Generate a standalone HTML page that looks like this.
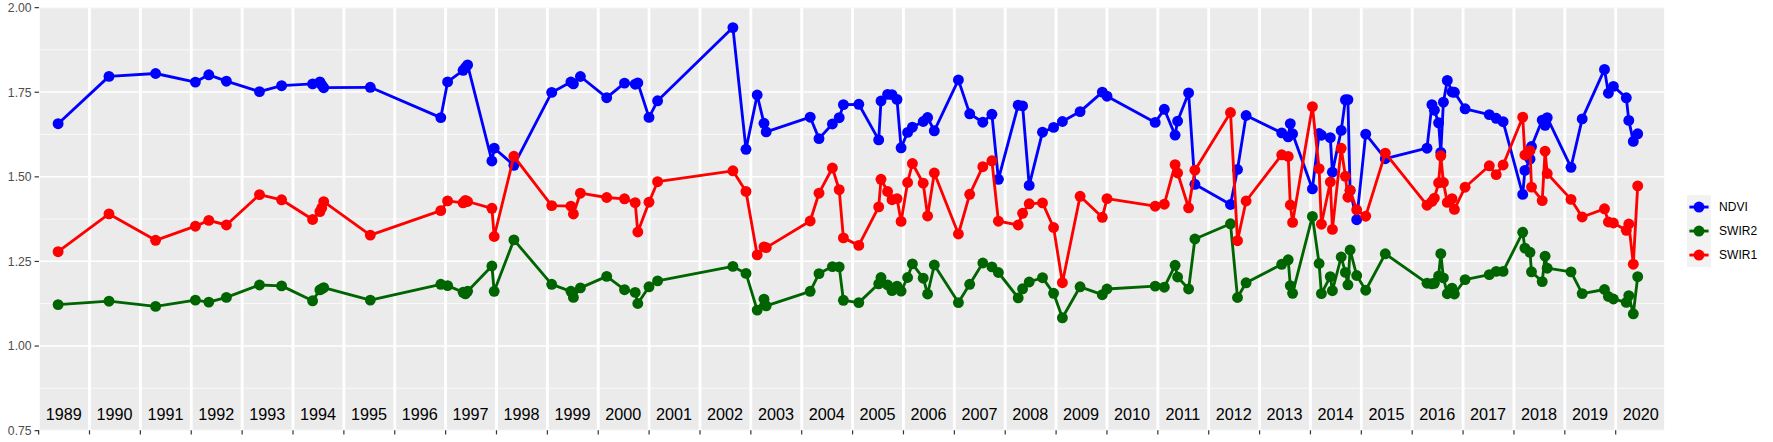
<!DOCTYPE html>
<html><head><meta charset="utf-8"><title>plot</title>
<style>html,body{margin:0;padding:0;background:#fff}svg{display:block}text{font-family:"Liberation Sans",sans-serif}</style></head><body>
<svg width="1773" height="442" viewBox="0 0 1773 442">
<rect width="1773" height="442" fill="#fff"/>
<defs><clipPath id="p"><rect x="39.3" y="7.5" width="1624.8" height="423.0"/></clipPath></defs>
<rect x="39.3" y="7.5" width="1624.8" height="423.0" fill="#EBEBEB"/>
<g clip-path="url(#p)">
<line x1="39.3" x2="1664.1" y1="49.80" y2="49.80" stroke="#fff" stroke-width="0.71"/>
<line x1="39.3" x2="1664.1" y1="134.40" y2="134.40" stroke="#fff" stroke-width="0.71"/>
<line x1="39.3" x2="1664.1" y1="219.00" y2="219.00" stroke="#fff" stroke-width="0.71"/>
<line x1="39.3" x2="1664.1" y1="303.60" y2="303.60" stroke="#fff" stroke-width="0.71"/>
<line x1="39.3" x2="1664.1" y1="388.20" y2="388.20" stroke="#fff" stroke-width="0.71"/>
<line x1="39.3" x2="1664.1" y1="7.50" y2="7.50" stroke="#fff" stroke-width="1.48"/>
<line x1="39.3" x2="1664.1" y1="92.10" y2="92.10" stroke="#fff" stroke-width="1.48"/>
<line x1="39.3" x2="1664.1" y1="176.70" y2="176.70" stroke="#fff" stroke-width="1.48"/>
<line x1="39.3" x2="1664.1" y1="261.30" y2="261.30" stroke="#fff" stroke-width="1.48"/>
<line x1="39.3" x2="1664.1" y1="345.90" y2="345.90" stroke="#fff" stroke-width="1.48"/>
<line x1="39.3" x2="1664.1" y1="430.50" y2="430.50" stroke="#fff" stroke-width="1.48"/>
<line x1="38.63" x2="38.63" y1="7.5" y2="430.5" stroke="#fff" stroke-width="2.85"/>
<line x1="89.50" x2="89.50" y1="7.5" y2="430.5" stroke="#fff" stroke-width="2.85"/>
<line x1="140.37" x2="140.37" y1="7.5" y2="430.5" stroke="#fff" stroke-width="2.85"/>
<line x1="191.25" x2="191.25" y1="7.5" y2="430.5" stroke="#fff" stroke-width="2.85"/>
<line x1="242.12" x2="242.12" y1="7.5" y2="430.5" stroke="#fff" stroke-width="2.85"/>
<line x1="292.99" x2="292.99" y1="7.5" y2="430.5" stroke="#fff" stroke-width="2.85"/>
<line x1="343.87" x2="343.87" y1="7.5" y2="430.5" stroke="#fff" stroke-width="2.85"/>
<line x1="394.74" x2="394.74" y1="7.5" y2="430.5" stroke="#fff" stroke-width="2.85"/>
<line x1="445.61" x2="445.61" y1="7.5" y2="430.5" stroke="#fff" stroke-width="2.85"/>
<line x1="496.48" x2="496.48" y1="7.5" y2="430.5" stroke="#fff" stroke-width="2.85"/>
<line x1="547.36" x2="547.36" y1="7.5" y2="430.5" stroke="#fff" stroke-width="2.85"/>
<line x1="598.23" x2="598.23" y1="7.5" y2="430.5" stroke="#fff" stroke-width="2.85"/>
<line x1="649.10" x2="649.10" y1="7.5" y2="430.5" stroke="#fff" stroke-width="2.85"/>
<line x1="699.98" x2="699.98" y1="7.5" y2="430.5" stroke="#fff" stroke-width="2.85"/>
<line x1="750.85" x2="750.85" y1="7.5" y2="430.5" stroke="#fff" stroke-width="2.85"/>
<line x1="801.72" x2="801.72" y1="7.5" y2="430.5" stroke="#fff" stroke-width="2.85"/>
<line x1="852.59" x2="852.59" y1="7.5" y2="430.5" stroke="#fff" stroke-width="2.85"/>
<line x1="903.47" x2="903.47" y1="7.5" y2="430.5" stroke="#fff" stroke-width="2.85"/>
<line x1="954.34" x2="954.34" y1="7.5" y2="430.5" stroke="#fff" stroke-width="2.85"/>
<line x1="1005.21" x2="1005.21" y1="7.5" y2="430.5" stroke="#fff" stroke-width="2.85"/>
<line x1="1056.09" x2="1056.09" y1="7.5" y2="430.5" stroke="#fff" stroke-width="2.85"/>
<line x1="1106.96" x2="1106.96" y1="7.5" y2="430.5" stroke="#fff" stroke-width="2.85"/>
<line x1="1157.83" x2="1157.83" y1="7.5" y2="430.5" stroke="#fff" stroke-width="2.85"/>
<line x1="1208.71" x2="1208.71" y1="7.5" y2="430.5" stroke="#fff" stroke-width="2.85"/>
<line x1="1259.58" x2="1259.58" y1="7.5" y2="430.5" stroke="#fff" stroke-width="2.85"/>
<line x1="1310.45" x2="1310.45" y1="7.5" y2="430.5" stroke="#fff" stroke-width="2.85"/>
<line x1="1361.33" x2="1361.33" y1="7.5" y2="430.5" stroke="#fff" stroke-width="2.85"/>
<line x1="1412.20" x2="1412.20" y1="7.5" y2="430.5" stroke="#fff" stroke-width="2.85"/>
<line x1="1463.07" x2="1463.07" y1="7.5" y2="430.5" stroke="#fff" stroke-width="2.85"/>
<line x1="1513.94" x2="1513.94" y1="7.5" y2="430.5" stroke="#fff" stroke-width="2.85"/>
<line x1="1564.82" x2="1564.82" y1="7.5" y2="430.5" stroke="#fff" stroke-width="2.85"/>
<line x1="1615.69" x2="1615.69" y1="7.5" y2="430.5" stroke="#fff" stroke-width="2.85"/>
<polyline points="58.1,123.7 109.0,76.4 155.6,73.5 195.4,82.1 208.8,74.8 226.4,81.2 259.5,91.6 281.6,85.7 312.6,83.9 319.9,81.9 321.7,84.8 323.7,87.7 370.3,87.3 440.8,117.6 447.6,81.9 463.1,70.3 465.4,67.5 467.6,64.9 491.9,161.0 494.2,148.2 513.9,165.3 551.7,92.4 570.9,82.0 573.4,83.8 580.4,76.5 606.7,97.7 624.5,83.1 635.2,84.2 637.8,82.9 649.0,117.4 657.6,100.8 732.9,27.6 746.0,149.3 757.2,95.0 764.0,123.3 766.2,131.9 810.2,117.2 819.0,138.6 832.4,124.0 839.2,117.7 843.4,104.6 858.8,104.3 878.7,139.9 881.0,101.0 887.6,94.4 892.0,94.6 897.0,99.4 901.1,147.8 907.6,132.4 912.4,127.2 923.2,121.5 927.6,117.5 934.3,130.8 958.4,79.9 969.7,113.8 982.8,122.2 991.9,114.3 998.4,179.3 1018.2,105.2 1022.6,105.9 1029.2,185.4 1042.5,132.2 1053.6,127.4 1062.4,121.5 1080.1,111.6 1102.3,92.1 1107.0,96.2 1155.2,122.4 1164.3,109.3 1175.1,135.1 1177.6,121.1 1188.6,92.9 1194.9,184.3 1230.5,204.5 1237.5,169.5 1246.1,115.5 1281.7,132.9 1288.2,136.9 1290.3,123.6 1292.6,133.8 1312.4,188.9 1319.1,133.5 1321.4,135.2 1330.3,137.7 1332.4,172.2 1341.2,130.4 1345.4,99.8 1347.9,99.6 1350.1,190.4 1356.7,219.7 1365.7,134.2 1385.3,158.7 1427.0,148.2 1431.9,104.6 1434.4,110.2 1438.6,122.8 1440.8,152.4 1443.4,102.2 1447.3,80.4 1452.0,92.0 1454.4,92.3 1465.1,108.8 1489.3,114.6 1496.2,118.3 1503.1,121.7 1522.7,194.4 1524.9,170.4 1530.0,159.2 1531.5,146.5 1542.2,120.1 1545.1,125.3 1547.2,117.6 1571.0,167.3 1582.2,118.9 1604.5,69.4 1608.4,93.2 1613.4,86.4 1626.3,97.8 1628.8,120.4 1633.3,141.4 1637.7,133.8" fill="none" stroke="#0000FF" stroke-width="2.85" stroke-linejoin="round" stroke-linecap="butt"/>
<g fill="#0000FF"><circle cx="58.1" cy="123.7" r="5.45"/><circle cx="109.0" cy="76.4" r="5.45"/><circle cx="155.6" cy="73.5" r="5.45"/><circle cx="195.4" cy="82.1" r="5.45"/><circle cx="208.8" cy="74.8" r="5.45"/><circle cx="226.4" cy="81.2" r="5.45"/><circle cx="259.5" cy="91.6" r="5.45"/><circle cx="281.6" cy="85.7" r="5.45"/><circle cx="312.6" cy="83.9" r="5.45"/><circle cx="319.9" cy="81.9" r="5.45"/><circle cx="321.7" cy="84.8" r="5.45"/><circle cx="323.7" cy="87.7" r="5.45"/><circle cx="370.3" cy="87.3" r="5.45"/><circle cx="440.8" cy="117.6" r="5.45"/><circle cx="447.6" cy="81.9" r="5.45"/><circle cx="463.1" cy="70.3" r="5.45"/><circle cx="465.4" cy="67.5" r="5.45"/><circle cx="467.6" cy="64.9" r="5.45"/><circle cx="491.9" cy="161.0" r="5.45"/><circle cx="494.2" cy="148.2" r="5.45"/><circle cx="513.9" cy="165.3" r="5.45"/><circle cx="551.7" cy="92.4" r="5.45"/><circle cx="570.9" cy="82.0" r="5.45"/><circle cx="573.4" cy="83.8" r="5.45"/><circle cx="580.4" cy="76.5" r="5.45"/><circle cx="606.7" cy="97.7" r="5.45"/><circle cx="624.5" cy="83.1" r="5.45"/><circle cx="635.2" cy="84.2" r="5.45"/><circle cx="637.8" cy="82.9" r="5.45"/><circle cx="649.0" cy="117.4" r="5.45"/><circle cx="657.6" cy="100.8" r="5.45"/><circle cx="732.9" cy="27.6" r="5.45"/><circle cx="746.0" cy="149.3" r="5.45"/><circle cx="757.2" cy="95.0" r="5.45"/><circle cx="764.0" cy="123.3" r="5.45"/><circle cx="766.2" cy="131.9" r="5.45"/><circle cx="810.2" cy="117.2" r="5.45"/><circle cx="819.0" cy="138.6" r="5.45"/><circle cx="832.4" cy="124.0" r="5.45"/><circle cx="839.2" cy="117.7" r="5.45"/><circle cx="843.4" cy="104.6" r="5.45"/><circle cx="858.8" cy="104.3" r="5.45"/><circle cx="878.7" cy="139.9" r="5.45"/><circle cx="881.0" cy="101.0" r="5.45"/><circle cx="887.6" cy="94.4" r="5.45"/><circle cx="892.0" cy="94.6" r="5.45"/><circle cx="897.0" cy="99.4" r="5.45"/><circle cx="901.1" cy="147.8" r="5.45"/><circle cx="907.6" cy="132.4" r="5.45"/><circle cx="912.4" cy="127.2" r="5.45"/><circle cx="923.2" cy="121.5" r="5.45"/><circle cx="927.6" cy="117.5" r="5.45"/><circle cx="934.3" cy="130.8" r="5.45"/><circle cx="958.4" cy="79.9" r="5.45"/><circle cx="969.7" cy="113.8" r="5.45"/><circle cx="982.8" cy="122.2" r="5.45"/><circle cx="991.9" cy="114.3" r="5.45"/><circle cx="998.4" cy="179.3" r="5.45"/><circle cx="1018.2" cy="105.2" r="5.45"/><circle cx="1022.6" cy="105.9" r="5.45"/><circle cx="1029.2" cy="185.4" r="5.45"/><circle cx="1042.5" cy="132.2" r="5.45"/><circle cx="1053.6" cy="127.4" r="5.45"/><circle cx="1062.4" cy="121.5" r="5.45"/><circle cx="1080.1" cy="111.6" r="5.45"/><circle cx="1102.3" cy="92.1" r="5.45"/><circle cx="1107.0" cy="96.2" r="5.45"/><circle cx="1155.2" cy="122.4" r="5.45"/><circle cx="1164.3" cy="109.3" r="5.45"/><circle cx="1175.1" cy="135.1" r="5.45"/><circle cx="1177.6" cy="121.1" r="5.45"/><circle cx="1188.6" cy="92.9" r="5.45"/><circle cx="1194.9" cy="184.3" r="5.45"/><circle cx="1230.5" cy="204.5" r="5.45"/><circle cx="1237.5" cy="169.5" r="5.45"/><circle cx="1246.1" cy="115.5" r="5.45"/><circle cx="1281.7" cy="132.9" r="5.45"/><circle cx="1288.2" cy="136.9" r="5.45"/><circle cx="1290.3" cy="123.6" r="5.45"/><circle cx="1292.6" cy="133.8" r="5.45"/><circle cx="1312.4" cy="188.9" r="5.45"/><circle cx="1319.1" cy="133.5" r="5.45"/><circle cx="1321.4" cy="135.2" r="5.45"/><circle cx="1330.3" cy="137.7" r="5.45"/><circle cx="1332.4" cy="172.2" r="5.45"/><circle cx="1341.2" cy="130.4" r="5.45"/><circle cx="1345.4" cy="99.8" r="5.45"/><circle cx="1347.9" cy="99.6" r="5.45"/><circle cx="1350.1" cy="190.4" r="5.45"/><circle cx="1356.7" cy="219.7" r="5.45"/><circle cx="1365.7" cy="134.2" r="5.45"/><circle cx="1385.3" cy="158.7" r="5.45"/><circle cx="1427.0" cy="148.2" r="5.45"/><circle cx="1431.9" cy="104.6" r="5.45"/><circle cx="1434.4" cy="110.2" r="5.45"/><circle cx="1438.6" cy="122.8" r="5.45"/><circle cx="1440.8" cy="152.4" r="5.45"/><circle cx="1443.4" cy="102.2" r="5.45"/><circle cx="1447.3" cy="80.4" r="5.45"/><circle cx="1452.0" cy="92.0" r="5.45"/><circle cx="1454.4" cy="92.3" r="5.45"/><circle cx="1465.1" cy="108.8" r="5.45"/><circle cx="1489.3" cy="114.6" r="5.45"/><circle cx="1496.2" cy="118.3" r="5.45"/><circle cx="1503.1" cy="121.7" r="5.45"/><circle cx="1522.7" cy="194.4" r="5.45"/><circle cx="1524.9" cy="170.4" r="5.45"/><circle cx="1530.0" cy="159.2" r="5.45"/><circle cx="1531.5" cy="146.5" r="5.45"/><circle cx="1542.2" cy="120.1" r="5.45"/><circle cx="1545.1" cy="125.3" r="5.45"/><circle cx="1547.2" cy="117.6" r="5.45"/><circle cx="1571.0" cy="167.3" r="5.45"/><circle cx="1582.2" cy="118.9" r="5.45"/><circle cx="1604.5" cy="69.4" r="5.45"/><circle cx="1608.4" cy="93.2" r="5.45"/><circle cx="1613.4" cy="86.4" r="5.45"/><circle cx="1626.3" cy="97.8" r="5.45"/><circle cx="1628.8" cy="120.4" r="5.45"/><circle cx="1633.3" cy="141.4" r="5.45"/><circle cx="1637.7" cy="133.8" r="5.45"/></g>
<polyline points="58.1,304.6 109.0,301.2 155.6,306.4 195.4,300.1 208.8,302.1 226.4,297.4 259.5,285.0 281.6,285.9 312.6,300.8 319.9,289.9 321.7,288.9 323.7,287.7 370.3,300.1 440.8,284.3 447.6,285.6 463.1,292.3 465.4,293.8 467.6,291.3 491.9,266.0 494.2,291.3 513.9,239.9 551.7,284.3 570.9,291.3 573.4,297.4 580.4,287.9 606.7,276.4 624.5,289.7 635.2,292.4 637.8,303.5 649.0,286.8 657.6,280.9 732.9,266.4 746.0,273.4 757.2,310.1 764.0,299.2 766.2,305.8 810.2,291.3 819.0,273.6 832.4,266.6 839.2,266.9 843.4,300.3 858.8,302.6 878.7,283.8 881.0,277.5 887.6,285.0 892.0,290.6 897.0,286.1 901.1,291.1 907.6,277.5 912.4,263.9 923.2,278.2 927.6,294.0 934.3,265.0 958.4,302.6 969.7,284.3 982.8,263.0 991.9,266.9 998.4,272.5 1018.2,297.9 1022.6,288.8 1029.2,282.0 1042.5,277.7 1053.6,293.3 1062.4,317.8 1080.1,286.8 1102.3,294.7 1107.0,289.0 1155.2,286.1 1164.3,287.2 1175.1,265.3 1177.6,277.0 1188.6,289.0 1194.9,239.0 1230.5,223.8 1237.5,297.5 1246.1,282.8 1281.7,264.3 1288.2,259.8 1290.3,285.6 1292.6,293.3 1312.4,216.4 1319.1,263.5 1321.4,293.6 1330.3,276.6 1332.4,290.7 1341.2,257.0 1345.4,272.4 1347.9,284.8 1350.1,250.0 1356.7,275.5 1365.7,290.2 1385.3,253.8 1427.0,283.2 1431.9,283.8 1434.4,283.3 1438.6,276.0 1440.8,253.7 1443.4,277.9 1447.3,293.7 1452.0,288.1 1454.4,294.0 1465.1,279.6 1489.3,274.6 1496.2,271.4 1503.1,271.4 1522.7,232.3 1524.9,248.1 1530.0,252.3 1531.5,271.8 1542.2,281.6 1545.1,256.2 1547.2,268.2 1571.0,271.9 1582.2,293.6 1604.5,289.5 1608.4,296.5 1613.4,299.0 1626.3,302.4 1628.8,295.6 1633.3,313.8 1637.7,276.7" fill="none" stroke="#006400" stroke-width="2.85" stroke-linejoin="round" stroke-linecap="butt"/>
<g fill="#006400"><circle cx="58.1" cy="304.6" r="5.45"/><circle cx="109.0" cy="301.2" r="5.45"/><circle cx="155.6" cy="306.4" r="5.45"/><circle cx="195.4" cy="300.1" r="5.45"/><circle cx="208.8" cy="302.1" r="5.45"/><circle cx="226.4" cy="297.4" r="5.45"/><circle cx="259.5" cy="285.0" r="5.45"/><circle cx="281.6" cy="285.9" r="5.45"/><circle cx="312.6" cy="300.8" r="5.45"/><circle cx="319.9" cy="289.9" r="5.45"/><circle cx="321.7" cy="288.9" r="5.45"/><circle cx="323.7" cy="287.7" r="5.45"/><circle cx="370.3" cy="300.1" r="5.45"/><circle cx="440.8" cy="284.3" r="5.45"/><circle cx="447.6" cy="285.6" r="5.45"/><circle cx="463.1" cy="292.3" r="5.45"/><circle cx="465.4" cy="293.8" r="5.45"/><circle cx="467.6" cy="291.3" r="5.45"/><circle cx="491.9" cy="266.0" r="5.45"/><circle cx="494.2" cy="291.3" r="5.45"/><circle cx="513.9" cy="239.9" r="5.45"/><circle cx="551.7" cy="284.3" r="5.45"/><circle cx="570.9" cy="291.3" r="5.45"/><circle cx="573.4" cy="297.4" r="5.45"/><circle cx="580.4" cy="287.9" r="5.45"/><circle cx="606.7" cy="276.4" r="5.45"/><circle cx="624.5" cy="289.7" r="5.45"/><circle cx="635.2" cy="292.4" r="5.45"/><circle cx="637.8" cy="303.5" r="5.45"/><circle cx="649.0" cy="286.8" r="5.45"/><circle cx="657.6" cy="280.9" r="5.45"/><circle cx="732.9" cy="266.4" r="5.45"/><circle cx="746.0" cy="273.4" r="5.45"/><circle cx="757.2" cy="310.1" r="5.45"/><circle cx="764.0" cy="299.2" r="5.45"/><circle cx="766.2" cy="305.8" r="5.45"/><circle cx="810.2" cy="291.3" r="5.45"/><circle cx="819.0" cy="273.6" r="5.45"/><circle cx="832.4" cy="266.6" r="5.45"/><circle cx="839.2" cy="266.9" r="5.45"/><circle cx="843.4" cy="300.3" r="5.45"/><circle cx="858.8" cy="302.6" r="5.45"/><circle cx="878.7" cy="283.8" r="5.45"/><circle cx="881.0" cy="277.5" r="5.45"/><circle cx="887.6" cy="285.0" r="5.45"/><circle cx="892.0" cy="290.6" r="5.45"/><circle cx="897.0" cy="286.1" r="5.45"/><circle cx="901.1" cy="291.1" r="5.45"/><circle cx="907.6" cy="277.5" r="5.45"/><circle cx="912.4" cy="263.9" r="5.45"/><circle cx="923.2" cy="278.2" r="5.45"/><circle cx="927.6" cy="294.0" r="5.45"/><circle cx="934.3" cy="265.0" r="5.45"/><circle cx="958.4" cy="302.6" r="5.45"/><circle cx="969.7" cy="284.3" r="5.45"/><circle cx="982.8" cy="263.0" r="5.45"/><circle cx="991.9" cy="266.9" r="5.45"/><circle cx="998.4" cy="272.5" r="5.45"/><circle cx="1018.2" cy="297.9" r="5.45"/><circle cx="1022.6" cy="288.8" r="5.45"/><circle cx="1029.2" cy="282.0" r="5.45"/><circle cx="1042.5" cy="277.7" r="5.45"/><circle cx="1053.6" cy="293.3" r="5.45"/><circle cx="1062.4" cy="317.8" r="5.45"/><circle cx="1080.1" cy="286.8" r="5.45"/><circle cx="1102.3" cy="294.7" r="5.45"/><circle cx="1107.0" cy="289.0" r="5.45"/><circle cx="1155.2" cy="286.1" r="5.45"/><circle cx="1164.3" cy="287.2" r="5.45"/><circle cx="1175.1" cy="265.3" r="5.45"/><circle cx="1177.6" cy="277.0" r="5.45"/><circle cx="1188.6" cy="289.0" r="5.45"/><circle cx="1194.9" cy="239.0" r="5.45"/><circle cx="1230.5" cy="223.8" r="5.45"/><circle cx="1237.5" cy="297.5" r="5.45"/><circle cx="1246.1" cy="282.8" r="5.45"/><circle cx="1281.7" cy="264.3" r="5.45"/><circle cx="1288.2" cy="259.8" r="5.45"/><circle cx="1290.3" cy="285.6" r="5.45"/><circle cx="1292.6" cy="293.3" r="5.45"/><circle cx="1312.4" cy="216.4" r="5.45"/><circle cx="1319.1" cy="263.5" r="5.45"/><circle cx="1321.4" cy="293.6" r="5.45"/><circle cx="1330.3" cy="276.6" r="5.45"/><circle cx="1332.4" cy="290.7" r="5.45"/><circle cx="1341.2" cy="257.0" r="5.45"/><circle cx="1345.4" cy="272.4" r="5.45"/><circle cx="1347.9" cy="284.8" r="5.45"/><circle cx="1350.1" cy="250.0" r="5.45"/><circle cx="1356.7" cy="275.5" r="5.45"/><circle cx="1365.7" cy="290.2" r="5.45"/><circle cx="1385.3" cy="253.8" r="5.45"/><circle cx="1427.0" cy="283.2" r="5.45"/><circle cx="1431.9" cy="283.8" r="5.45"/><circle cx="1434.4" cy="283.3" r="5.45"/><circle cx="1438.6" cy="276.0" r="5.45"/><circle cx="1440.8" cy="253.7" r="5.45"/><circle cx="1443.4" cy="277.9" r="5.45"/><circle cx="1447.3" cy="293.7" r="5.45"/><circle cx="1452.0" cy="288.1" r="5.45"/><circle cx="1454.4" cy="294.0" r="5.45"/><circle cx="1465.1" cy="279.6" r="5.45"/><circle cx="1489.3" cy="274.6" r="5.45"/><circle cx="1496.2" cy="271.4" r="5.45"/><circle cx="1503.1" cy="271.4" r="5.45"/><circle cx="1522.7" cy="232.3" r="5.45"/><circle cx="1524.9" cy="248.1" r="5.45"/><circle cx="1530.0" cy="252.3" r="5.45"/><circle cx="1531.5" cy="271.8" r="5.45"/><circle cx="1542.2" cy="281.6" r="5.45"/><circle cx="1545.1" cy="256.2" r="5.45"/><circle cx="1547.2" cy="268.2" r="5.45"/><circle cx="1571.0" cy="271.9" r="5.45"/><circle cx="1582.2" cy="293.6" r="5.45"/><circle cx="1604.5" cy="289.5" r="5.45"/><circle cx="1608.4" cy="296.5" r="5.45"/><circle cx="1613.4" cy="299.0" r="5.45"/><circle cx="1626.3" cy="302.4" r="5.45"/><circle cx="1628.8" cy="295.6" r="5.45"/><circle cx="1633.3" cy="313.8" r="5.45"/><circle cx="1637.7" cy="276.7" r="5.45"/></g>
<polyline points="58.1,251.7 109.0,213.9 155.6,240.3 195.4,226.2 208.8,220.4 226.4,225.0 259.5,194.6 281.6,199.8 312.6,219.5 319.9,211.6 321.7,208.0 323.7,201.7 370.3,235.1 440.8,210.6 447.6,200.9 463.1,202.8 465.4,200.4 467.6,201.5 491.9,208.3 494.2,236.5 513.9,156.3 551.7,205.6 570.9,206.1 573.4,214.0 580.4,193.2 606.7,197.5 624.5,198.8 635.2,202.7 637.8,232.0 649.0,202.2 657.6,181.7 732.9,170.8 746.0,191.4 757.2,254.9 764.0,246.9 766.2,247.6 810.2,221.0 819.0,193.2 832.4,168.0 839.2,189.7 843.4,237.9 858.8,245.4 878.7,206.9 881.0,179.3 887.6,191.5 892.0,199.7 897.0,198.6 901.1,221.4 907.6,182.5 912.4,163.5 923.2,183.2 927.6,216.0 934.3,173.0 958.4,234.0 969.7,194.3 982.8,166.7 991.9,160.8 998.4,221.2 1018.2,225.0 1022.6,213.3 1029.2,203.8 1042.5,202.9 1053.6,227.5 1062.4,282.7 1080.1,196.3 1102.3,217.3 1107.0,198.6 1155.2,206.2 1164.3,204.2 1175.1,164.6 1177.6,173.0 1188.6,207.8 1194.9,170.2 1230.5,112.5 1237.5,240.7 1246.1,201.0 1281.7,154.8 1288.2,156.4 1290.3,205.0 1292.6,222.4 1312.4,106.6 1319.1,168.6 1321.4,224.2 1330.3,182.0 1332.4,229.4 1341.2,148.3 1345.4,176.3 1347.9,197.2 1350.1,190.2 1356.7,209.8 1365.7,216.2 1385.3,153.1 1427.0,205.2 1431.9,201.5 1434.4,198.1 1438.6,182.8 1440.8,155.8 1443.4,182.5 1447.3,202.4 1452.0,198.7 1454.4,209.4 1465.1,187.2 1489.3,165.8 1496.2,174.6 1503.1,165.0 1522.7,117.2 1524.9,155.0 1530.0,150.7 1531.5,187.1 1542.2,200.6 1545.1,151.2 1547.2,173.5 1571.0,199.4 1582.2,217.0 1604.5,208.8 1608.4,222.0 1613.4,223.0 1626.3,230.3 1628.8,224.0 1633.3,264.2 1637.7,185.9" fill="none" stroke="#FF0000" stroke-width="2.85" stroke-linejoin="round" stroke-linecap="butt"/>
<g fill="#FF0000"><circle cx="58.1" cy="251.7" r="5.45"/><circle cx="109.0" cy="213.9" r="5.45"/><circle cx="155.6" cy="240.3" r="5.45"/><circle cx="195.4" cy="226.2" r="5.45"/><circle cx="208.8" cy="220.4" r="5.45"/><circle cx="226.4" cy="225.0" r="5.45"/><circle cx="259.5" cy="194.6" r="5.45"/><circle cx="281.6" cy="199.8" r="5.45"/><circle cx="312.6" cy="219.5" r="5.45"/><circle cx="319.9" cy="211.6" r="5.45"/><circle cx="321.7" cy="208.0" r="5.45"/><circle cx="323.7" cy="201.7" r="5.45"/><circle cx="370.3" cy="235.1" r="5.45"/><circle cx="440.8" cy="210.6" r="5.45"/><circle cx="447.6" cy="200.9" r="5.45"/><circle cx="463.1" cy="202.8" r="5.45"/><circle cx="465.4" cy="200.4" r="5.45"/><circle cx="467.6" cy="201.5" r="5.45"/><circle cx="491.9" cy="208.3" r="5.45"/><circle cx="494.2" cy="236.5" r="5.45"/><circle cx="513.9" cy="156.3" r="5.45"/><circle cx="551.7" cy="205.6" r="5.45"/><circle cx="570.9" cy="206.1" r="5.45"/><circle cx="573.4" cy="214.0" r="5.45"/><circle cx="580.4" cy="193.2" r="5.45"/><circle cx="606.7" cy="197.5" r="5.45"/><circle cx="624.5" cy="198.8" r="5.45"/><circle cx="635.2" cy="202.7" r="5.45"/><circle cx="637.8" cy="232.0" r="5.45"/><circle cx="649.0" cy="202.2" r="5.45"/><circle cx="657.6" cy="181.7" r="5.45"/><circle cx="732.9" cy="170.8" r="5.45"/><circle cx="746.0" cy="191.4" r="5.45"/><circle cx="757.2" cy="254.9" r="5.45"/><circle cx="764.0" cy="246.9" r="5.45"/><circle cx="766.2" cy="247.6" r="5.45"/><circle cx="810.2" cy="221.0" r="5.45"/><circle cx="819.0" cy="193.2" r="5.45"/><circle cx="832.4" cy="168.0" r="5.45"/><circle cx="839.2" cy="189.7" r="5.45"/><circle cx="843.4" cy="237.9" r="5.45"/><circle cx="858.8" cy="245.4" r="5.45"/><circle cx="878.7" cy="206.9" r="5.45"/><circle cx="881.0" cy="179.3" r="5.45"/><circle cx="887.6" cy="191.5" r="5.45"/><circle cx="892.0" cy="199.7" r="5.45"/><circle cx="897.0" cy="198.6" r="5.45"/><circle cx="901.1" cy="221.4" r="5.45"/><circle cx="907.6" cy="182.5" r="5.45"/><circle cx="912.4" cy="163.5" r="5.45"/><circle cx="923.2" cy="183.2" r="5.45"/><circle cx="927.6" cy="216.0" r="5.45"/><circle cx="934.3" cy="173.0" r="5.45"/><circle cx="958.4" cy="234.0" r="5.45"/><circle cx="969.7" cy="194.3" r="5.45"/><circle cx="982.8" cy="166.7" r="5.45"/><circle cx="991.9" cy="160.8" r="5.45"/><circle cx="998.4" cy="221.2" r="5.45"/><circle cx="1018.2" cy="225.0" r="5.45"/><circle cx="1022.6" cy="213.3" r="5.45"/><circle cx="1029.2" cy="203.8" r="5.45"/><circle cx="1042.5" cy="202.9" r="5.45"/><circle cx="1053.6" cy="227.5" r="5.45"/><circle cx="1062.4" cy="282.7" r="5.45"/><circle cx="1080.1" cy="196.3" r="5.45"/><circle cx="1102.3" cy="217.3" r="5.45"/><circle cx="1107.0" cy="198.6" r="5.45"/><circle cx="1155.2" cy="206.2" r="5.45"/><circle cx="1164.3" cy="204.2" r="5.45"/><circle cx="1175.1" cy="164.6" r="5.45"/><circle cx="1177.6" cy="173.0" r="5.45"/><circle cx="1188.6" cy="207.8" r="5.45"/><circle cx="1194.9" cy="170.2" r="5.45"/><circle cx="1230.5" cy="112.5" r="5.45"/><circle cx="1237.5" cy="240.7" r="5.45"/><circle cx="1246.1" cy="201.0" r="5.45"/><circle cx="1281.7" cy="154.8" r="5.45"/><circle cx="1288.2" cy="156.4" r="5.45"/><circle cx="1290.3" cy="205.0" r="5.45"/><circle cx="1292.6" cy="222.4" r="5.45"/><circle cx="1312.4" cy="106.6" r="5.45"/><circle cx="1319.1" cy="168.6" r="5.45"/><circle cx="1321.4" cy="224.2" r="5.45"/><circle cx="1330.3" cy="182.0" r="5.45"/><circle cx="1332.4" cy="229.4" r="5.45"/><circle cx="1341.2" cy="148.3" r="5.45"/><circle cx="1345.4" cy="176.3" r="5.45"/><circle cx="1347.9" cy="197.2" r="5.45"/><circle cx="1350.1" cy="190.2" r="5.45"/><circle cx="1356.7" cy="209.8" r="5.45"/><circle cx="1365.7" cy="216.2" r="5.45"/><circle cx="1385.3" cy="153.1" r="5.45"/><circle cx="1427.0" cy="205.2" r="5.45"/><circle cx="1431.9" cy="201.5" r="5.45"/><circle cx="1434.4" cy="198.1" r="5.45"/><circle cx="1438.6" cy="182.8" r="5.45"/><circle cx="1440.8" cy="155.8" r="5.45"/><circle cx="1443.4" cy="182.5" r="5.45"/><circle cx="1447.3" cy="202.4" r="5.45"/><circle cx="1452.0" cy="198.7" r="5.45"/><circle cx="1454.4" cy="209.4" r="5.45"/><circle cx="1465.1" cy="187.2" r="5.45"/><circle cx="1489.3" cy="165.8" r="5.45"/><circle cx="1496.2" cy="174.6" r="5.45"/><circle cx="1503.1" cy="165.0" r="5.45"/><circle cx="1522.7" cy="117.2" r="5.45"/><circle cx="1524.9" cy="155.0" r="5.45"/><circle cx="1530.0" cy="150.7" r="5.45"/><circle cx="1531.5" cy="187.1" r="5.45"/><circle cx="1542.2" cy="200.6" r="5.45"/><circle cx="1545.1" cy="151.2" r="5.45"/><circle cx="1547.2" cy="173.5" r="5.45"/><circle cx="1571.0" cy="199.4" r="5.45"/><circle cx="1582.2" cy="217.0" r="5.45"/><circle cx="1604.5" cy="208.8" r="5.45"/><circle cx="1608.4" cy="222.0" r="5.45"/><circle cx="1613.4" cy="223.0" r="5.45"/><circle cx="1626.3" cy="230.3" r="5.45"/><circle cx="1628.8" cy="224.0" r="5.45"/><circle cx="1633.3" cy="264.2" r="5.45"/><circle cx="1637.7" cy="185.9" r="5.45"/></g>
<g font-size="16.2" fill="#000" text-anchor="middle">
<text x="63.7" y="419.6">1989</text>
<text x="114.5" y="419.6">1990</text>
<text x="165.4" y="419.6">1991</text>
<text x="216.3" y="419.6">1992</text>
<text x="267.2" y="419.6">1993</text>
<text x="318.0" y="419.6">1994</text>
<text x="368.9" y="419.6">1995</text>
<text x="419.8" y="419.6">1996</text>
<text x="470.6" y="419.6">1997</text>
<text x="521.5" y="419.6">1998</text>
<text x="572.4" y="419.6">1999</text>
<text x="623.3" y="419.6">2000</text>
<text x="674.1" y="419.6">2001</text>
<text x="725.0" y="419.6">2002</text>
<text x="775.9" y="419.6">2003</text>
<text x="826.8" y="419.6">2004</text>
<text x="877.6" y="419.6">2005</text>
<text x="928.5" y="419.6">2006</text>
<text x="979.4" y="419.6">2007</text>
<text x="1030.3" y="419.6">2008</text>
<text x="1081.1" y="419.6">2009</text>
<text x="1132.0" y="419.6">2010</text>
<text x="1182.9" y="419.6">2011</text>
<text x="1233.7" y="419.6">2012</text>
<text x="1284.6" y="419.6">2013</text>
<text x="1335.5" y="419.6">2014</text>
<text x="1386.4" y="419.6">2015</text>
<text x="1437.2" y="419.6">2016</text>
<text x="1488.1" y="419.6">2017</text>
<text x="1539.0" y="419.6">2018</text>
<text x="1589.9" y="419.6">2019</text>
<text x="1640.7" y="419.6">2020</text>
</g>
</g>
<g font-size="12.2" fill="#4D4D4D" text-anchor="end">
<text x="31.6" y="11.9">2.00</text>
<text x="31.6" y="96.5">1.75</text>
<text x="31.6" y="181.1">1.50</text>
<text x="31.6" y="265.7">1.25</text>
<text x="31.6" y="350.3">1.00</text>
<text x="31.6" y="434.9">0.75</text>
</g>
<line x1="34.6" x2="38.9" y1="7.65" y2="7.65" stroke="#333" stroke-width="1.2"/>
<line x1="34.6" x2="38.9" y1="92.25" y2="92.25" stroke="#333" stroke-width="1.2"/>
<line x1="34.6" x2="38.9" y1="176.85" y2="176.85" stroke="#333" stroke-width="1.2"/>
<line x1="34.6" x2="38.9" y1="261.45" y2="261.45" stroke="#333" stroke-width="1.2"/>
<line x1="34.6" x2="38.9" y1="346.05" y2="346.05" stroke="#333" stroke-width="1.2"/>
<line x1="34.6" x2="38.9" y1="430.65" y2="430.65" stroke="#333" stroke-width="1.2"/>
<line x1="38.63" x2="38.63" y1="430.3" y2="434.4" stroke="#333" stroke-width="1.2"/>
<line x1="89.50" x2="89.50" y1="430.3" y2="434.4" stroke="#333" stroke-width="1.2"/>
<line x1="140.37" x2="140.37" y1="430.3" y2="434.4" stroke="#333" stroke-width="1.2"/>
<line x1="191.25" x2="191.25" y1="430.3" y2="434.4" stroke="#333" stroke-width="1.2"/>
<line x1="242.12" x2="242.12" y1="430.3" y2="434.4" stroke="#333" stroke-width="1.2"/>
<line x1="292.99" x2="292.99" y1="430.3" y2="434.4" stroke="#333" stroke-width="1.2"/>
<line x1="343.87" x2="343.87" y1="430.3" y2="434.4" stroke="#333" stroke-width="1.2"/>
<line x1="394.74" x2="394.74" y1="430.3" y2="434.4" stroke="#333" stroke-width="1.2"/>
<line x1="445.61" x2="445.61" y1="430.3" y2="434.4" stroke="#333" stroke-width="1.2"/>
<line x1="496.48" x2="496.48" y1="430.3" y2="434.4" stroke="#333" stroke-width="1.2"/>
<line x1="547.36" x2="547.36" y1="430.3" y2="434.4" stroke="#333" stroke-width="1.2"/>
<line x1="598.23" x2="598.23" y1="430.3" y2="434.4" stroke="#333" stroke-width="1.2"/>
<line x1="649.10" x2="649.10" y1="430.3" y2="434.4" stroke="#333" stroke-width="1.2"/>
<line x1="699.98" x2="699.98" y1="430.3" y2="434.4" stroke="#333" stroke-width="1.2"/>
<line x1="750.85" x2="750.85" y1="430.3" y2="434.4" stroke="#333" stroke-width="1.2"/>
<line x1="801.72" x2="801.72" y1="430.3" y2="434.4" stroke="#333" stroke-width="1.2"/>
<line x1="852.59" x2="852.59" y1="430.3" y2="434.4" stroke="#333" stroke-width="1.2"/>
<line x1="903.47" x2="903.47" y1="430.3" y2="434.4" stroke="#333" stroke-width="1.2"/>
<line x1="954.34" x2="954.34" y1="430.3" y2="434.4" stroke="#333" stroke-width="1.2"/>
<line x1="1005.21" x2="1005.21" y1="430.3" y2="434.4" stroke="#333" stroke-width="1.2"/>
<line x1="1056.09" x2="1056.09" y1="430.3" y2="434.4" stroke="#333" stroke-width="1.2"/>
<line x1="1106.96" x2="1106.96" y1="430.3" y2="434.4" stroke="#333" stroke-width="1.2"/>
<line x1="1157.83" x2="1157.83" y1="430.3" y2="434.4" stroke="#333" stroke-width="1.2"/>
<line x1="1208.71" x2="1208.71" y1="430.3" y2="434.4" stroke="#333" stroke-width="1.2"/>
<line x1="1259.58" x2="1259.58" y1="430.3" y2="434.4" stroke="#333" stroke-width="1.2"/>
<line x1="1310.45" x2="1310.45" y1="430.3" y2="434.4" stroke="#333" stroke-width="1.2"/>
<line x1="1361.33" x2="1361.33" y1="430.3" y2="434.4" stroke="#333" stroke-width="1.2"/>
<line x1="1412.20" x2="1412.20" y1="430.3" y2="434.4" stroke="#333" stroke-width="1.2"/>
<line x1="1463.07" x2="1463.07" y1="430.3" y2="434.4" stroke="#333" stroke-width="1.2"/>
<line x1="1513.94" x2="1513.94" y1="430.3" y2="434.4" stroke="#333" stroke-width="1.2"/>
<line x1="1564.82" x2="1564.82" y1="430.3" y2="434.4" stroke="#333" stroke-width="1.2"/>
<line x1="1615.69" x2="1615.69" y1="430.3" y2="434.4" stroke="#333" stroke-width="1.2"/>
<rect x="1687.0" y="195.05" width="24" height="72" fill="#F2F2F2"/>
<line x1="1689.4" x2="1708.6" y1="207.05" y2="207.05" stroke="#0000FF" stroke-width="2.85"/>
<circle cx="1699.0" cy="207.05" r="5.45" fill="#0000FF"/>
<text x="1719.1" y="211.4" font-size="12.0" fill="#000">NDVI</text>
<line x1="1689.4" x2="1708.6" y1="231.05" y2="231.05" stroke="#006400" stroke-width="2.85"/>
<circle cx="1699.0" cy="231.05" r="5.45" fill="#006400"/>
<text x="1719.1" y="235.4" font-size="12.0" fill="#000">SWIR2</text>
<line x1="1689.4" x2="1708.6" y1="255.05" y2="255.05" stroke="#FF0000" stroke-width="2.85"/>
<circle cx="1699.0" cy="255.05" r="5.45" fill="#FF0000"/>
<text x="1719.1" y="259.4" font-size="12.0" fill="#000">SWIR1</text>
</svg></body></html>
